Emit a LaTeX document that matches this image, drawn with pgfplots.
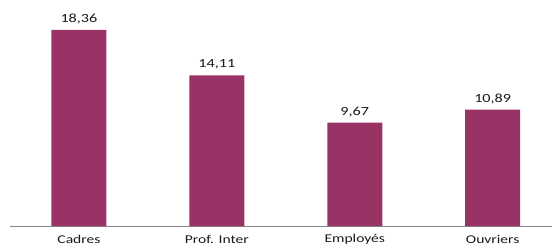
\documentclass[border=0pt]{standalone}
\usepackage{fontspec}
\setmainfont{Carlito}[FakeStretch=1.3]
\usepackage{pgfplots}
\pgfplotsset{compat=1.18}
\definecolor{barc}{HTML}{993366}
\definecolor{axc}{HTML}{868686}
\definecolor{txt}{HTML}{1A1A1A}
\begin{document}
\begin{tikzpicture}
\begin{axis}[
  at={(10bp,20bp)}, anchor=south west,
  scale only axis,
  width=542bp, height=226bp,
  xmin=-0.5, xmax=3.43,
  ymin=0, ymax=21.16,
  axis y line=none,
  axis x line*=bottom,
  x axis line style={axc, line width=0.8pt, -},
  xtick={0,1,2,3},
  xticklabels={Cadres, Prof. Inter, Employés, Ouvriers},
  major tick length=0pt,
  xticklabel style={font=\fontsize{12}{14}\selectfont, text=txt, anchor=center, yshift=-13.5bp},
  ybar, bar width=55bp,
  nodes near coords,
  nodes near coords style={font=\fontsize{12.5}{14}\selectfont, text=txt, anchor=center, yshift=11bp},
  point meta=explicit symbolic,
  clip=false,
]
\addplot[fill=barc, draw=none] coordinates {(0,18.36)[18,36] (1,14.11)[14,11] (2,9.67)[9,67] (3,10.89)[10,89]};
\end{axis}
\pgfresetboundingbox
\path (0,0) rectangle (552bp,246bp);
\end{tikzpicture}
\end{document}
